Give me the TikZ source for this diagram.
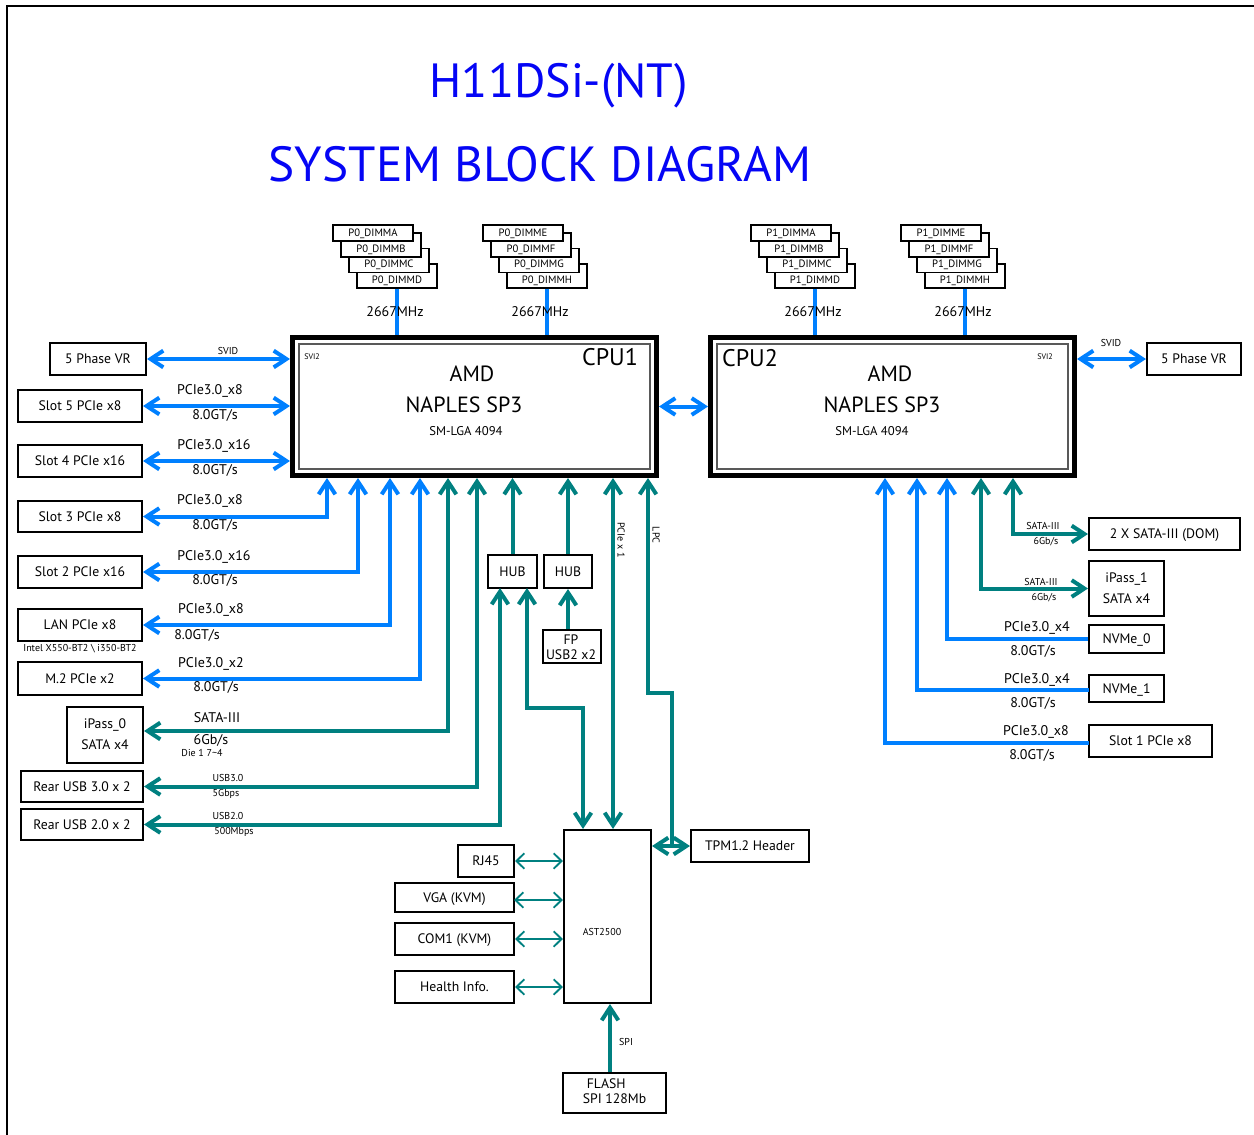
\documentclass[tikz,border=0pt]{standalone}
\usepackage{fontspec}
\setmainfont{PT Sans}
\usetikzlibrary{arrows.meta}
\definecolor{ttl}{RGB}{5,5,245}
\definecolor{bl}{RGB}{0,128,255}
\definecolor{tl}{RGB}{0,128,128}
\newcommand\fz[2]{\fontsize{#1}{#2}\selectfont}
\newcommand\twol[2]{\begin{tabular}{@{}c@{}}#1\\#2\end{tabular}}
\begin{document}
\begin{tikzpicture}[x=0.75pt,y=-0.75pt,
  sz/.style 2 args={minimum width=#1*0.75pt,minimum height=#2*0.75pt},
  box/.style={draw,line width=1.5pt,inner sep=0pt,font=\fz{10.3}{12},text height=7.2pt,text depth=0pt},
  mbox/.style={draw,line width=1.5pt,inner sep=0pt},
  dimmf/.style={draw,line width=1.1pt,fill=white,inner sep=0pt,minimum width=60pt,minimum height=12pt,font=\fz{8}{9},text height=5.6pt,text depth=0.6pt},
  dimmb/.style={dimmf,minimum height=18pt,text height=11.8pt,text depth=0.6pt},
  cpubox/.style={draw,line width=3.75pt,inner sep=0pt,minimum width=273pt,minimum height=103.5pt},
  inbox/.style={draw=gray!70!black,line width=0.8pt,inner sep=0pt,sz={351}{125}},
  lbl/.style={inner sep=0pt,font=\fz{10.5}{12}},
  slbl/.style={inner sep=0pt,font=\fz{7.5}{9}},
  tiny/.style={inner sep=0pt,font=\fz{6}{7}},
  bw/.style={draw=bl,line width=3pt},
  tw/.style={draw=tl,line width=3pt},
  tthin/.style={draw=tl,line width=1.4pt,>={Straight Barb[length=6pt,width=11.5pt]}},
  >={Straight Barb[length=9.5pt,width=12.5pt]}
]
\useasboundingbox (0,0) rectangle (1254,1135);
\draw[line width=1.5pt] (7,1135) -- (7,6) -- (1254,6);

% title
\node[inner sep=0pt,text=ttl,font=\fz{36}{40}] (t1) at (559,86) {H11DSi-(NT)};
\node[inner sep=0pt,text=ttl,font=\fz{37}{42}] (t2) at (540,164) {SYSTEM BLOCK DIAGRAM};

% CPUs
\node[cpubox] (cpu1) at (474.5,406.5) {};
\node[inbox] (cpu1in) at (474.5,406.5) {};
\node[inner sep=0pt,font=\fz{18}{20}] (cpu1t) at (610,357) {CPU1};
\node[inner sep=0pt,font=\fz{16.5}{18}] (cpu1a) at (472,374) {AMD};
\node[inner sep=0pt,font=\fz{16.5}{18}] (cpu1n) at (464,405) {NAPLES SP3};
\node[inner sep=0pt,font=\fz{9.5}{11}] (cpu1s) at (466,431) {SM-LGA 4094};
\node[tiny] (cpu1v) at (312,357) {SVI2};

\node[cpubox] (cpu2) at (892.5,406.5) {};
\node[inbox] (cpu2in) at (892.5,406.5) {};
\node[inner sep=0pt,font=\fz{18}{20}] (cpu2t) at (750,358) {CPU2};
\node[inner sep=0pt,font=\fz{16.5}{18}] (cpu2a) at (890,374) {AMD};
\node[inner sep=0pt,font=\fz{16.5}{18}] (cpu2n) at (882,405) {NAPLES SP3};
\node[inner sep=0pt,font=\fz{9.5}{11}] (cpu2s) at (872,431) {SM-LGA 4094};
\node[tiny] (cpu2v) at (1045,357) {SVI2};

% DIMMs CPU1
\node[dimmb] (p0d) at (397,276) {P0\_DIMMD};
\node[dimmb] (p0c) at (389,260.5) {P0\_DIMMC};
\node[dimmb] (p0b) at (381,245) {P0\_DIMMB};
\node[dimmf] (p0a) at (373,233) {P0\_DIMMA};
\node[dimmb] (p0h) at (547,276) {P0\_DIMMH};
\node[dimmb] (p0g) at (539,260.5) {P0\_DIMMG};
\node[dimmb] (p0f) at (531,245) {P0\_DIMMF};
\node[dimmf] (p0e) at (523,233) {P0\_DIMME};
% DIMMs CPU2
\node[dimmb] (p1d) at (815,276) {P1\_DIMMD};
\node[dimmb] (p1c) at (807,260.5) {P1\_DIMMC};
\node[dimmb] (p1b) at (799,245) {P1\_DIMMB};
\node[dimmf] (p1a) at (791,233) {P1\_DIMMA};
\node[dimmb] (p1h) at (965,276) {P1\_DIMMH};
\node[dimmb] (p1g) at (957,260.5) {P1\_DIMMG};
\node[dimmb] (p1f) at (949,245) {P1\_DIMMF};
\node[dimmf] (p1e) at (941,233) {P1\_DIMME};

\draw[bw] (p0d.south) -- (cpu1.north -| p0d.south);
\draw[bw] (p0h.south) -- (cpu1.north -| p0h.south);
\draw[bw] (p1d.south) -- (cpu2.north -| p1d.south);
\draw[bw] (p1h.south) -- (cpu2.north -| p1h.south);
\node[lbl] (m1) at (395,312) {2667MHz};
\node[lbl] (m2) at (540,312) {2667MHz};
\node[lbl] (m3) at (813,312) {2667MHz};
\node[lbl] (m4) at (963,312) {2667MHz};

% left boxes
\node[box,sz={96}{32}] (vr1) at (98,359) {5 Phase VR};
\node[box,sz={124}{32}] (s5) at (80,406) {Slot 5 PCIe x8};
\node[box,sz={124}{32}] (s4) at (80,461) {Slot 4 PCIe x16};
\node[box,sz={124}{31}] (s3) at (80,516.5) {Slot 3 PCIe x8};
\node[box,sz={124}{32}] (s2) at (80,572) {Slot 2 PCIe x16};
\node[box,sz={124}{32}] (lan) at (80,625) {LAN PCIe x8};
\node[box,sz={124}{33}] (m2b) at (80,678.5) {M.2 PCIe x2};
\node[mbox,sz={76}{56},font=\fz{10.3}{15.75}] (ip0) at (105,735) {\twol{iPass\_0}{SATA x4}};
\node[box,sz={122}{31}] (u3) at (82,786.5) {Rear USB 3.0 x 2};
\node[box,sz={122}{31}] (u2) at (82,824.5) {Rear USB 2.0 x 2};
\node[slbl] (intel) at (80,649) {Intel X550-BT2 \textbackslash{} i350-BT2};

% CPU1 bottom points
\coordinate (b1) at (327,478);
\coordinate (b2) at (358,478);
\coordinate (b3) at (390,478);
\coordinate (b4) at (420,478);
\coordinate (b5) at (448,478);
\coordinate (b6) at (477,478);
\coordinate (b9) at (613,478);
\coordinate (b10) at (648,478);

\draw[bw,<->] (vr1.east) -- (cpu1.west |- vr1.east);
\draw[bw,<->] (s5.east) -- (cpu1.west |- s5.east);
\draw[bw,<->] (s4.east) -- (cpu1.west |- s4.east);
\draw[bw,<->] (s3.east) -| (b1);
\draw[bw,<->] (s2.east) -| (b2);
\draw[bw,<->] (lan.east) -| (b3);
\draw[bw,<->] (m2b.east) -| (b4);
\draw[tw,<->] ([yshift=3pt]ip0.east) -| (b5);
\draw[tw,<->] (u3.east) -| (b6);

\node[slbl] (l0) at (228,351) {SVID};
\node[lbl] (l1a) at (210,391) {PCIe3.0\_x8};
\node[lbl] (l1b) at (215,415) {8.0GT/s};
\node[lbl] (l2a) at (214,446) {PCIe3.0\_x16};
\node[lbl] (l2b) at (215,470) {8.0GT/s};
\node[lbl] (l3a) at (210,501) {PCIe3.0\_x8};
\node[lbl] (l3b) at (215,525) {8.0GT/s};
\node[lbl] (l4a) at (214,557) {PCIe3.0\_x16};
\node[lbl] (l4b) at (215,580) {8.0GT/s};
\node[lbl] (l5a) at (211,610) {PCIe3.0\_x8};
\node[lbl] (l5b) at (197,635) {8.0GT/s};
\node[lbl] (l6a) at (211,664) {PCIe3.0\_x2};
\node[lbl] (l6b) at (216,687) {8.0GT/s};
\node[lbl] (l7a) at (217,718) {SATA-III};
\node[lbl] (l7b) at (211,740) {6Gb/s};
\node[slbl] (l7c) at (202,753) {Die 1 7\textasciitilde4};
\node[slbl] (l8a) at (228,778) {USB3.0};
\node[slbl] (l8b) at (226,794) {5Gbps};
\node[slbl] (l9a) at (228,816) {USB2.0};
\node[slbl] (l9b) at (234,832) {500Mbps};

% middle
\node[box,sz={49}{33}] (hub1) at (512.5,571.5) {HUB};
\node[box,sz={48}{33}] (hub2) at (568,571.5) {HUB};
\node[mbox,sz={58}{33}] (fp) at (572,646.5) {};
\node[inner sep=0pt,font=\fz{10.3}{11.3}] (fpl) at (571,649) {\twol{FP}{USB2 x2}};
\node[mbox,sz={87}{173}] (ast) at (607.5,916.5) {};
\node[slbl] (astl) at (602,932) {AST2500};
\node[box,sz={118}{32}] (tpm) at (750,846) {TPM1.2 Header};
\node[box,sz={56}{32}] (rj45) at (486,861) {RJ45};
\node[box,sz={119}{29}] (vga) at (454.5,897.5) {VGA (KVM)};
\node[box,sz={119}{32}] (com1) at (454.5,939) {COM1 (KVM)};
\node[box,sz={119}{32}] (hlth) at (454.5,987) {Health Info.};
\node[mbox,sz={103}{40},font=\fz{10.3}{11.5}] (flash) at (614.5,1093) {\begin{tabular}{@{}l@{}}\hspace*{3pt}FLASH\\SPI 128Mb\end{tabular}};

\coordinate (h1l) at (500,588);
\coordinate (h1r) at (527,588);
\coordinate (k1) at (583,708);
\coordinate (j1) at (672,846);
\coordinate (k2) at (648,693);
\coordinate (sp) at (610,0);
\coordinate (vg) at (514,900);

\draw[tw,->] (hub1.north) -- (cpu1.south -| hub1.north);
\draw[tw,->] (hub2.north) -- (cpu1.south -| hub2.north);
\draw[tw,->] (fp.north -| hub2.south) -- (hub2.south);
\draw[tw,<->] (u2.east) -| (h1l);
\draw[tw,<->] (h1r) |- (k1) -- (ast.north -| k1);
\draw[tw,<->] (b9) -- (ast.north -| b9);
\draw[tw,->] (j1) |- (k2) -- (b10);
\draw[tw,<->] (ast.east |- tpm.west) -- (tpm.west);
\draw[tw,->] (flash.north -| sp) -- (ast.south -| sp);

\draw[tthin,<->] (rj45.east) -- (ast.west |- rj45.east);
\draw[tthin,<->] (vg) -- (ast.west |- vg);
\draw[tthin,<->] (com1.east) -- (ast.west |- com1.east);
\draw[tthin,<->] (hlth.east) -- (ast.west |- hlth.east);

\node[inner sep=0pt,rotate=-90,font=\fz{7.5}{9}] (pcil) at (621,540) {PCIe x 1};
\node[inner sep=0pt,rotate=-90,font=\fz{7.5}{9}] (lpcl) at (656,535) {LPC};
\node[slbl] (spil) at (626,1042) {SPI};

% right side
\node[box,sz={94}{32}] (vr2) at (1194,359) {5 Phase VR};
\node[box,sz={151}{32}] (dom) at (1164.5,534) {2 X SATA-III (DOM)};
\node[mbox,sz={75}{55},font=\fz{10.3}{15.75}] (ip1) at (1126.5,588.5) {\twol{iPass\_1}{SATA x4}};
\node[box,sz={75}{28}] (nv0) at (1126.5,639) {NVMe\_0};
\node[box,sz={75}{27}] (nv1) at (1126.5,688.5) {NVMe\_1};
\node[box,sz={123}{32}] (s1) at (1150.5,741) {Slot 1 PCIe x8};

\coordinate (c1) at (885,478);
\coordinate (c2) at (917,478);
\coordinate (c3) at (947,478);
\coordinate (c4) at (981,478);
\coordinate (c5) at (1013,478);
\coordinate (n1) at (1089,690);
\coordinate (n2) at (1089,743);

\draw[bw,<->] (cpu1.east) -- (cpu2.west);
\draw[bw,<->] (cpu2.east |- vr2.west) -- (vr2.west);
\draw[tw,<->] (c5) |- (dom.west);
\draw[tw,<->] (c4) |- (ip1.west);
\draw[bw,->] (nv0.west) -| (c3);
\draw[bw,->] (n1) -| (c2);
\draw[bw,->] (n2) -| (c1);

\node[slbl] (r0) at (1111,343) {SVID};
\node[slbl] (r1a) at (1043,526) {SATA-III};
\node[slbl] (r1b) at (1046,542) {6Gb/s};
\node[slbl] (r2a) at (1041,582) {SATA-III};
\node[slbl] (r2b) at (1044,598) {6Gb/s};
\node[lbl] (r3a) at (1037,628) {PCIe3.0\_x4};
\node[lbl] (r3b) at (1033,651) {8.0GT/s};
\node[lbl] (r4a) at (1037,680) {PCIe3.0\_x4};
\node[lbl] (r4b) at (1033,703) {8.0GT/s};
\node[lbl] (r5a) at (1036,732) {PCIe3.0\_x8};
\node[lbl] (r5b) at (1032,755) {8.0GT/s};
\end{tikzpicture}
\end{document}
